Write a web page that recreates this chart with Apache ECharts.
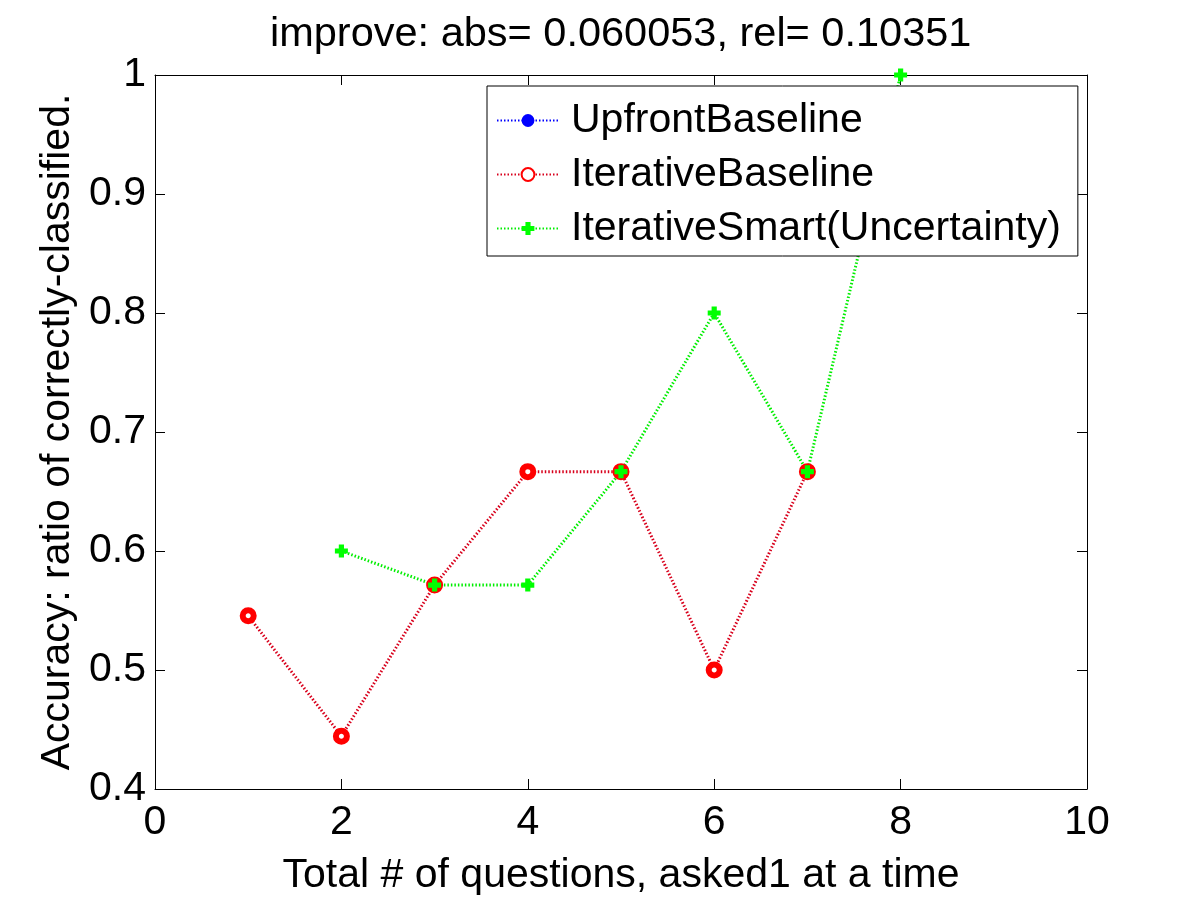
<!DOCTYPE html>
<html>
<head>
<meta charset="utf-8">
<script src="https://cdn.jsdelivr.net/npm/echarts@6/dist/echarts.min.js"></script>
<style>
  html, body { margin: 0; padding: 0; background: #fff; }
  #chart { width: 1200px; height: 901px; }
</style>
</head>
<body>
<div id="chart"></div>
<script>
// chart data
const titleText = 'improve: abs= 0.060053, rel= 0.10351';
const seriesNames = ['UpfrontBaseline', 'IterativeBaseline', 'IterativeSmart(Uncertainty)'];
const upfrontBaseline = [];
const iterativeBaseline = [[1, 0.5455], [2, 0.4444], [3, 0.5714], [4, 0.6667], [5, 0.6667], [6, 0.5], [7, 0.6667]];
const iterativeSmart = [[2, 0.6], [3, 0.5714], [4, 0.5714], [5, 0.6667], [6, 0.8], [7, 0.6667], [8, 1.0]];
const xTicks = [0, 2, 4, 6, 8, 10];
const yTicks = [0.4, 0.5, 0.6, 0.7, 0.8, 0.9, 1];

const FONT = '"Liberation Sans", Arial, Helvetica, sans-serif';
const FS = 41;
const PLUS = 'path://M3,0H7V3H10V7H7V10H3V7H0V3H3Z';
const dots = [1.5, 2];

const chart = echarts.init(document.getElementById('chart'));

function boxAxis(pos, isX, showLabels) {
  return {
    type: 'value',
    position: pos,
    min: isX ? xTicks[0] : yTicks[0],
    max: isX ? xTicks[xTicks.length - 1] : yTicks[yTicks.length - 1],
    interval: isX ? 2 : 0.1,
    axisLine: { show: true, onZero: false, lineStyle: { color: '#000', width: 1 } },
    axisTick: { show: true, inside: true, length: 10, lineStyle: { color: '#000', width: 1 } },
    splitLine: { show: false },
    axisLabel: {
      show: showLabels,
      color: '#000',
      fontSize: FS,
      fontFamily: FONT,
      margin: isX ? 13 : 9,
      formatter: v => String(+v.toFixed(1))
    }
  };
}

const xMain = boxAxis('bottom', true, true);
xMain.name = 'Total # of questions, asked1 at a time';
xMain.nameLocation = 'middle';
xMain.nameGap = 66;
xMain.nameTextStyle = { color: '#000', fontSize: FS, fontFamily: FONT };

const yMain = boxAxis('left', false, true);
yMain.name = 'Accuracy: ratio of correctly-classified.';
yMain.nameLocation = 'middle';
yMain.nameGap = 74;
yMain.nameTextStyle = { color: '#000', fontSize: FS, fontFamily: FONT };

const option = {
  backgroundColor: '#fff',
  animation: false,
  title: {
    text: titleText,
    left: 265,
    top: 9,
    textStyle: { color: '#000', fontSize: 41.5, fontWeight: 'normal', fontFamily: FONT }
  },
  grid: { left: 155, right: 113, top: 75, bottom: 111 },
  xAxis: [xMain, boxAxis('top', true, false)],
  yAxis: [yMain, boxAxis('right', false, false)],
  legend: {
    orient: 'vertical',
    left: 487,
    top: 86,
    padding: [14, 17, 7, 9],
    itemGap: 13,
    itemWidth: 62,
    itemHeight: 16,
    backgroundColor: '#fff',
    borderColor: '#000',
    borderWidth: 1,
    borderRadius: 0,
    textStyle: { color: '#000', fontSize: FS, fontFamily: FONT, lineHeight: 41, padding: [0, 0, 0, 7] },
    data: seriesNames
  },
  series: [
    {
      name: seriesNames[0],
      type: 'line',
      data: upfrontBaseline,
      symbol: 'circle',
      symbolSize: 14,
      lineStyle: { color: '#0000ff', width: 3, type: dots },
      itemStyle: { color: '#0000ff' }
    },
    {
      name: seriesNames[1],
      type: 'line',
      data: iterativeBaseline,
      symbol: 'circle',
      symbolSize: 11,
      showAllSymbol: true,
      lineStyle: { color: '#d8001c', width: 3, type: dots },
      itemStyle: { color: '#ffffff', borderColor: '#ff0000', borderWidth: 6 }
    },
    {
      name: seriesNames[2],
      type: 'line',
      data: iterativeSmart,
      symbol: PLUS,
      symbolSize: 13,
      showAllSymbol: true,
      clip: false,
      lineStyle: { color: '#00ee00', width: 3, type: dots },
      itemStyle: { color: '#00ff00' }
    }
  ]
};

chart.setOption(option);
</script>
</body>
</html>
